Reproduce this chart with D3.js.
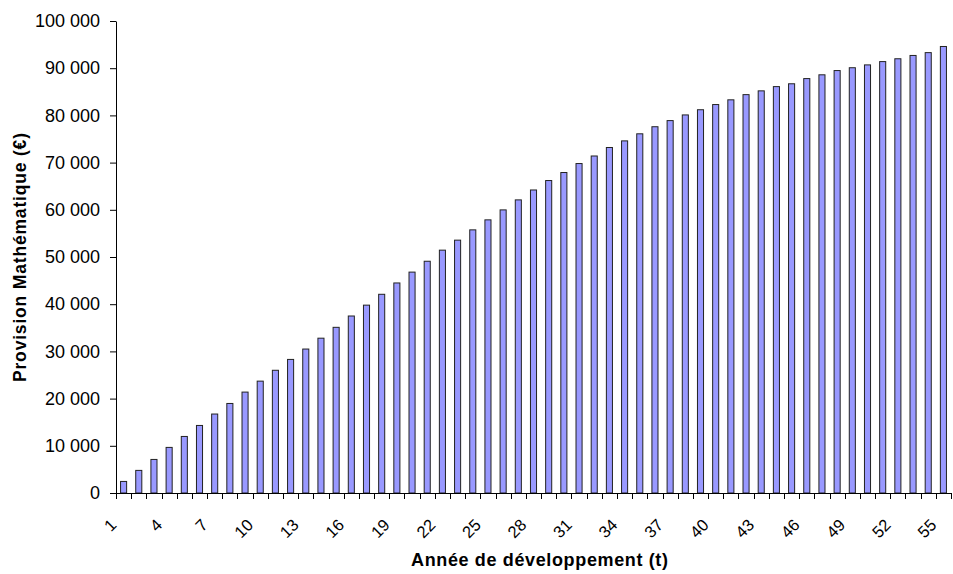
<!DOCTYPE html>
<html>
<head>
<meta charset="utf-8">
<script src="https://cdn.jsdelivr.net/npm/d3@7/dist/d3.min.js"></script>
<style>
  html, body { margin: 0; padding: 0; background: #fff; }
  svg { display: block; font-family: "Liberation Sans", Arial, sans-serif; }
</style>
</head>
<body>
<svg id="chart" width="953" height="574"></svg>
<script>
// Development years 1..55
const years = d3.range(1, 56);

// Mathematical reserve (€) at each development year
const provision = [
  2450, 4790, 7110, 9660, 11980, 14310, 16730, 18970, 21380, 23700,
  26000, 28300, 30500, 32800, 35100, 37500, 39800, 42100, 44500, 46800,
  49100, 51450, 53570, 55750, 57870, 59980, 62100, 64200, 66200, 67900,
  69800, 71400, 73200, 74600, 76100, 77600, 78900, 80100, 81200, 82300,
  83300, 84400, 85200, 86100, 86700, 87800, 88600, 89500, 90100, 90700,
  91400, 92000, 92700, 93300, 94600
];

// Axis labels
const yTicks = d3.range(0, 100001, 10000);
const xTickLabels = years.filter(d => (d - 1) % 3 === 0);
const yTitle = "Provision Mathématique (€)";
const xTitle = "Année de développement (t)";

const svg = d3.select("#chart");
const plotLeft = 116, plotRight = 951, plotTop = 21, plotBottom = 493;

const x = d3.scaleBand()
  .domain(years)
  .range([plotLeft, plotRight])
  .paddingInner(0.6)
  .paddingOuter(0.3);

const y = d3.scaleLinear()
  .domain([0, 100000])
  .range([plotBottom, plotTop]);

const fr = d3.formatLocale({ thousands: " ", grouping: [3], decimal: ",", currency: ["", " €"] });
const fmt = fr.format(",");

// Bars
svg.append("g")
  .selectAll("rect")
  .data(provision)
  .join("rect")
  .attr("x", (d, i) => x(years[i]))
  .attr("y", d => y(d))
  .attr("width", x.bandwidth())
  .attr("height", d => y(0) - y(d))
  .attr("fill", "#9999ff")
  .attr("stroke", "#222")
  .attr("stroke-width", 1);

// Y axis
const yAxis = svg.append("g")
  .attr("transform", `translate(${plotLeft},0)`)
  .call(d3.axisLeft(y).tickValues(yTicks).tickFormat(fmt).tickSize(6).tickSizeOuter(0));
yAxis.select(".domain").attr("stroke", "#000");
yAxis.selectAll(".tick line").attr("stroke", "#000");
yAxis.selectAll(".tick text")
  .attr("x", -16)
  .attr("font-size", 18)
  .attr("fill", "#000");

// X axis: labels every third year
const xAxis = svg.append("g")
  .attr("transform", `translate(0,${plotBottom})`)
  .call(d3.axisBottom(x).tickValues(xTickLabels).tickSize(0).tickSizeOuter(0));
xAxis.select(".domain").attr("d", `M${plotLeft},0.5H${plotRight}`).attr("stroke", "#000");
xAxis.selectAll(".tick text")
  .attr("font-size", 16.5)
  .attr("fill", "#000")
  .attr("text-anchor", "end")
  .attr("dy", 0)
  .attr("y", 0)
  .attr("transform", "translate(-6,33) rotate(-45)");

// X tick marks at category boundaries
const step = x.step();
const x0 = x(years[0]) - x.paddingOuter() * step;
svg.append("g")
  .selectAll("line")
  .data(d3.range(0, years.length + 1))
  .join("line")
  .attr("x1", k => Math.round(x0 + k * step) + 0.5)
  .attr("x2", k => Math.round(x0 + k * step) + 0.5)
  .attr("y1", plotBottom)
  .attr("y2", plotBottom + 6)
  .attr("stroke", "#000");

// Axis titles
svg.append("text")
  .attr("transform", `translate(26,257.5) rotate(-90)`)
  .attr("text-anchor", "middle")
  .attr("font-size", 17.5)
  .attr("font-weight", "bold")
  .attr("textLength", 249)
  .attr("lengthAdjust", "spacing")
  .text(yTitle);

svg.append("text")
  .attr("x", 539.5)
  .attr("y", 566)
  .attr("text-anchor", "middle")
  .attr("font-size", 18)
  .attr("font-weight", "bold")
  .attr("textLength", 257)
  .attr("lengthAdjust", "spacing")
  .text(xTitle);
</script>
</body>
</html>
